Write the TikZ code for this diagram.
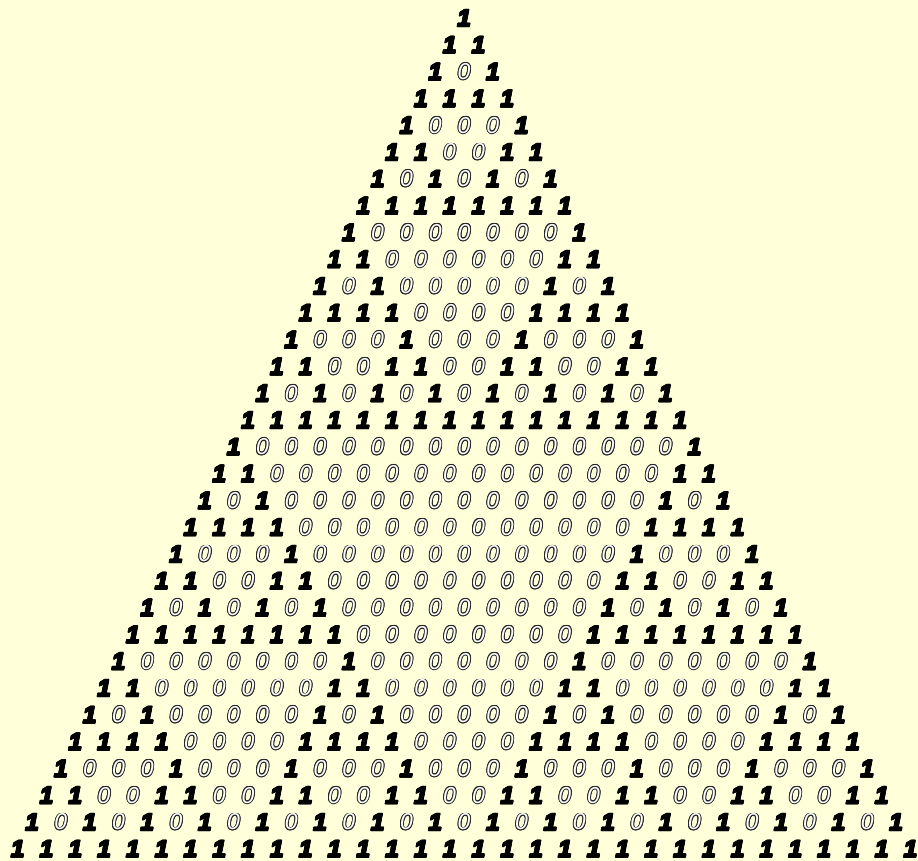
\documentclass[tikz,border=0pt]{standalone}
\usepackage{fontspec}
\newfontfamily\digitfont{Liberation Sans}[BoldItalicFeatures={FakeBold=3.5}]
\definecolor{bgyellow}{HTML}{FFFFDA}
\tikzset{
  digit/.style={inner sep=0pt, font=\digitfont\fontsize{23}{23}\selectfont},
  one/.style={digit, text=black, font=\digitfont\fontsize{24}{24}\selectfont\bfseries\itshape},
  zeroedge/.style={digit, text=black!85, font=\digitfont\fontsize{23}{23}\selectfont\itshape},
  zero/.style={digit, text=white, font=\digitfont\fontsize{23}{23}\selectfont\itshape}
}
\begin{document}
\begin{tikzpicture}[x=1pt,y=1pt]
\fill[bgyellow] (0,0) rectangle (918,861);
\useasboundingbox (0,0) rectangle (918,861);
\foreach \r in {0,...,31}{
  \foreach \k in {0,...,\r}{
    \pgfmathtruncatemacro\v{(1-mod(\k,2)*(1-mod(\r,2)))*(1-mod(floor(\k/2),2)*(1-mod(floor(\r/2),2)))*(1-mod(floor(\k/4),2)*(1-mod(floor(\r/4),2)))*(1-mod(floor(\k/8),2)*(1-mod(floor(\r/8),2)))*(1-mod(floor(\k/16),2)*(1-mod(floor(\r/16),2)))}
    \pgfmathsetmacro\xx{464+(\k-\r/2)*28.8}
    \pgfmathsetmacro\yy{861-18-26.8*\r}
    \ifnum\v=1
      \foreach \a in {0,60,...,300}{
        \node[one] at ([shift={(\a:0.6)}]\xx,\yy) {1};
      }
      \node[one] (n-\r-\k) at (\xx,\yy) {1};
    \else
      \foreach \a in {0,30,...,330}{
        \node[zeroedge] at ([shift={(\a:0.9)}]\xx,\yy) {0};
      }
      \node[zero] (n-\r-\k) at (\xx,\yy) {0};
    \fi
  }
}
\end{tikzpicture}
\end{document}
